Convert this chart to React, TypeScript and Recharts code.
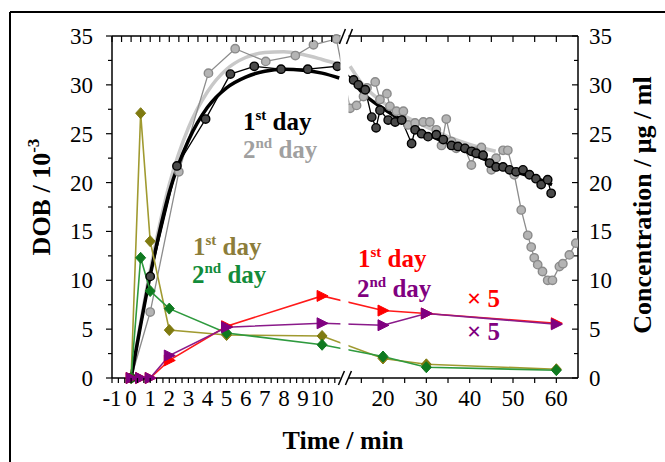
import { LineChart, Line, XAxis, YAxis } from 'recharts'

// broken time axis: 0-11 min linear, then 20-65 min compressed
const U20 = 13.19
const K = 0.2269
const U_MIN = -1
const U_MAX = 23.4
const toU = (t: number) => (t <= 11 ? t : U20 + (t - 20) * K)

const LEFT_LABELS = [-1, 0, 1, 2, 3, 4, 5, 6, 7, 8, 9, 10]
const RIGHT_LABELS = [20, 30, 40, 50, 60]
const Y_LABELS = [0, 5, 10, 15, 20, 25, 30, 35]

// DOB, 1st day (black)
const DOB1_T = [0, 1, 2.4, 3.9, 5.2, 6.45, 7.85, 9.25, 10.8, 13.2, 14.3, 15.9, 17.4, 18.4, 19.3, 21.2, 22.8, 24.3, 26.6, 27.4, 28.9, 30.4, 32.3, 33.9, 35.8, 37.3, 38.9, 40.4, 41.5, 43.1, 44.6, 46.1, 47.7, 49.2, 50.7, 52.3, 53.8, 55.3, 56.5, 58.0, 58.8]
const DOB1_Y = [0, 10.4, 21.7, 26.5, 31.1, 31.9, 31.6, 31.6, 31.9, 30.5, 30.0, 29.5, 26.7, 25.6, 27.4, 26.4, 26.2, 26.4, 24.0, 25.4, 25.0, 24.7, 24.9, 24.4, 23.8, 23.7, 23.5, 23.2, 23.0, 22.8, 22.0, 21.6, 21.6, 21.3, 21.1, 21.3, 20.8, 20.4, 19.8, 20.3, 18.9]

// DOB, 2nd day (gray)
const DOB2_T = [0, 1, 2.5, 4.05, 5.45, 7.05, 8.6, 9.55, 10.75, 12.4, 13.9, 15.5, 16.3, 18.2, 19.3, 20.9, 21.6, 23.1, 24.7, 25.8, 27.4, 29.3, 30.8, 32.3, 33.5, 34.6, 35.8, 36.9, 38.9, 40.4, 41.5, 42.7, 45.0, 46.1, 47.7, 48.8, 50.3, 51.9, 53.4, 54.2, 54.9, 55.7, 56.8, 58.0, 59.1, 60.7, 61.5, 63.0, 64.5]
const DOB2_Y = [0, 6.75, 21.1, 31.2, 33.7, 32.4, 33.0, 34.1, 34.7, 27.6, 27.9, 28.8, 29.7, 30.3, 28.5, 29.1, 27.8, 27.3, 27.3, 25.9, 26.1, 26.2, 26.2, 25.4, 23.8, 26.5, 24.2, 23.5, 23.5, 21.8, 23.2, 23.6, 21.3, 22.5, 23.3, 23.3, 20.8, 17.2, 14.6, 13.4, 12.3, 11.6, 10.9, 10.0, 10.0, 11.4, 11.7, 12.6, 13.8]

// fitted curves
const FIT1_LT = [0, 1, 2, 3, 4, 5, 6, 7, 8, 9, 10, 10.9]
const FIT1_LY = [0, 10.5, 19.0, 24.3, 27.7, 29.7, 30.8, 31.4, 31.6, 31.5, 31.2, 30.7]
const FIT1_RT = [12.4, 15, 20, 25, 30, 35, 40, 45, 50, 55, 59]
const FIT1_RY = [30.8, 29.3, 27.6, 26.2, 25.0, 24.0, 23.0, 22.1, 21.2, 20.5, 19.8]
const FIT2_LT = [0, 1, 2, 3, 4, 5, 6, 7, 8, 9, 10, 10.9]
const FIT2_LY = [0, 11.0, 19.8, 25.6, 29.3, 31.6, 32.8, 33.3, 33.4, 33.1, 32.6, 32.1]
const FIT2_RT = [12.4, 15, 20, 25, 30, 35, 40, 46]
const FIT2_RY = [31.9, 30.2, 28.2, 26.8, 25.7, 24.7, 23.9, 23.2]

// concentrations (right axis)
const CONC_T = [0, 0.5, 1, 2, 5, 10, 20, 30, 60]
const OLIVE = [0, 27.1, 14.0, 4.9, 4.4, 4.3, 2.0, 1.4, 0.9]
const GREEN = [0, 12.3, 8.9, 7.1, 4.6, 3.4, 2.2, 1.1, 0.8]
const RED = [0, 0, 0, 1.8, 5.3, 8.4, 6.9, 6.6, 5.6]
const PURPLE = [0, 0, 0, 2.3, 5.2, 5.6, 5.4, 6.6, 5.5]

const W = 665
const H = 462
const PL = 112
const PR = 578
const PT = 36
const PB = 378
const FONT = '"Liberation Serif", "Times New Roman", serif'

const pxOfU = (u: number) => PL + ((u - U_MIN) / (U_MAX - U_MIN)) * (PR - PL)

const rows = (ts: number[], ys: number[]) => ts.map((t, i) => ({ u: toU(t), y: ys[i] }))

const bottomTicks: number[] = []
for (let i = 0; i <= 35; i++) bottomTicks.push(-1 + i / 3)
for (let t = 15; t <= 60; t += 5) bottomTicks.push(toU(t))
const topTicks: number[] = []
for (let i = 0; i <= 23; i++) topTicks.push(-1 + i / 2)
for (let t = 15; t <= 60; t += 5) topTicks.push(toU(t))
const yTicks: number[] = []
for (let v = 0; v <= 35; v += 2.5) yTicks.push(v)

const xLabel = (u: number) => {
  const l = LEFT_LABELS.find(v => Math.abs(v - u) < 1e-6)
  if (l !== undefined) return String(l)
  const r = RIGHT_LABELS.find(v => Math.abs(toU(v) - u) < 1e-6)
  return r !== undefined ? String(r) : null
}

function BottomTick(p: any) {
  const label = xLabel(p.payload.value)
  return (
    <g>
      <line x1={p.x} x2={p.x} y1={p.y} y2={p.y + 5} stroke="#000" strokeWidth={1.2} />
      {label && (
        <text x={p.x} y={p.y + 28} textAnchor="middle" fontSize={23} fontFamily={FONT} fill="#000">
          {label}
        </text>
      )}
    </g>
  )
}

function TopTick(p: any) {
  return <line x1={p.x} x2={p.x} y1={p.y} y2={p.y + 6} stroke="#000" strokeWidth={1.2} />
}

function LeftTick(p: any) {
  const v = p.payload.value
  const major = v % 5 === 0
  return (
    <g>
      <line x1={p.x - (major ? 6 : 4)} x2={p.x} y1={p.y} y2={p.y} stroke="#000" strokeWidth={1.2} />
      {major && (
        <text x={p.x - 19} y={p.y + 8} textAnchor="end" fontSize={23} fontFamily={FONT} fill="#000">
          {v}
        </text>
      )}
    </g>
  )
}

function RightTick(p: any) {
  const v = p.payload.value
  const major = v % 5 === 0
  return (
    <g>
      <line x1={p.x - (major ? 6 : 4)} x2={p.x} y1={p.y} y2={p.y} stroke="#000" strokeWidth={1.2} />
      {major && (
        <text x={p.x + 11} y={p.y + 8} textAnchor="start" fontSize={23} fontFamily={FONT} fill="#000">
          {v}
        </text>
      )}
    </g>
  )
}

const ball = (fill: string, stroke: string) => (p: any) =>
  p.cx == null ? <g key={p.index} /> : (
    <circle key={p.index} cx={p.cx} cy={p.cy} r={4.2} fill={fill} stroke={stroke} strokeWidth={1.4} />
  )

const diamond = (fill: string) => (p: any) =>
  p.cx == null ? <g key={p.index} /> : (
    <polygon
      key={p.index}
      points={`${p.cx},${p.cy - 5.5} ${p.cx + 5},${p.cy} ${p.cx},${p.cy + 5.5} ${p.cx - 5},${p.cy}`}
      fill={fill}
      stroke={fill}
    />
  )

const triangle = (fill: string) => (p: any) =>
  p.cx == null ? <g key={p.index} /> : (
    <polygon
      key={p.index}
      points={`${p.cx - 5},${p.cy - 5.5} ${p.cx + 6},${p.cy} ${p.cx - 5},${p.cy + 5.5}`}
      fill={fill}
      stroke={fill}
    />
  )

function DayLabel({ x, y, n, sup, color }: { x: number; y: number; n: string; sup: string; color: string }) {
  return (
    <text x={x} y={y} fontSize={25} fontWeight="bold" fontFamily={FONT} fill={color}>
      <tspan>{n}</tspan>
      <tspan fontSize={15} dy={-10}>{sup}</tspan>
      <tspan dy={10}>{' day'}</tspan>
    </text>
  )
}

export default function App() {
  const bx1 = pxOfU(10.96)
  const bx2 = pxOfU(11.38)
  return (
    <div style={{ position: 'absolute', left: 0, top: 0, width: W, height: H, background: '#fff' }}>
      <LineChart width={W} height={H} margin={{ top: 30, right: 0, bottom: 0, left: 0 }}>
        <XAxis
          xAxisId="b"
          dataKey="u"
          type="number"
          domain={[U_MIN, U_MAX]}
          allowDataOverflow
          ticks={bottomTicks}
          interval={0}
          height={H - PB}
          tickSize={0}
          tickMargin={0}
          tickLine={false}
          axisLine={{ stroke: '#000', strokeWidth: 1.5 }}
          tick={(p: any) => <BottomTick {...p} />}
        />
        <XAxis
          xAxisId="t"
          orientation="top"
          dataKey="u"
          type="number"
          domain={[U_MIN, U_MAX]}
          allowDataOverflow
          ticks={topTicks}
          interval={0}
          height={6}
          tickSize={0}
          tickMargin={0}
          tickLine={false}
          axisLine={{ stroke: '#000', strokeWidth: 1.5 }}
          tick={(p: any) => <TopTick {...p} />}
        />
        <YAxis
          yAxisId="l"
          type="number"
          domain={[0, 35]}
          ticks={yTicks}
          interval={0}
          width={PL}
          tickSize={0}
          tickMargin={0}
          tickLine={false}
          axisLine={{ stroke: '#000', strokeWidth: 1.5 }}
          tick={(p: any) => <LeftTick {...p} />}
        />
        <YAxis
          yAxisId="r"
          orientation="right"
          type="number"
          domain={[0, 35]}
          ticks={yTicks}
          interval={0}
          width={W - PR}
          tickSize={0}
          tickMargin={0}
          tickLine={false}
          axisLine={{ stroke: '#000', strokeWidth: 1.5 }}
          tick={(p: any) => <RightTick {...p} />}
        />

        <Line data={rows(FIT2_LT, FIT2_LY)} dataKey="y" xAxisId="b" yAxisId="l" type="monotone" stroke="#c8c8c8" strokeWidth={3.5} dot={false} activeDot={false} isAnimationActive={false} />
        <Line data={rows(FIT2_RT, FIT2_RY)} dataKey="y" xAxisId="b" yAxisId="l" type="monotone" stroke="#c8c8c8" strokeWidth={3.5} dot={false} activeDot={false} isAnimationActive={false} />
        <Line data={rows(DOB2_T, DOB2_Y)} dataKey="y" xAxisId="b" yAxisId="l" stroke="#8c8c8c" strokeWidth={1.3} dot={ball('#b4b4b4', '#8a8a8a')} activeDot={false} isAnimationActive={false} />
        <Line data={rows(FIT1_LT, FIT1_LY)} dataKey="y" xAxisId="b" yAxisId="l" type="monotone" stroke="#000" strokeWidth={3.5} dot={false} activeDot={false} isAnimationActive={false} />
        <Line data={rows(FIT1_RT, FIT1_RY)} dataKey="y" xAxisId="b" yAxisId="l" type="monotone" stroke="#000" strokeWidth={3.5} dot={false} activeDot={false} isAnimationActive={false} />
        <Line data={rows(DOB1_T, DOB1_Y)} dataKey="y" xAxisId="b" yAxisId="l" stroke="#000" strokeWidth={1.3} dot={ball('#4a4a4a', '#000')} activeDot={false} isAnimationActive={false} />

        <Line data={rows(CONC_T, OLIVE)} dataKey="y" xAxisId="b" yAxisId="r" stroke="#a09a30" strokeWidth={1.6} dot={diamond('#7f7a10')} activeDot={false} isAnimationActive={false} />
        <Line data={rows(CONC_T, GREEN)} dataKey="y" xAxisId="b" yAxisId="r" stroke="#2e9a3e" strokeWidth={1.6} dot={diamond('#0f7a20')} activeDot={false} isAnimationActive={false} />
        <Line data={rows(CONC_T, RED)} dataKey="y" xAxisId="b" yAxisId="r" stroke="#ff1a1a" strokeWidth={1.6} dot={triangle('#ff0000')} activeDot={false} isAnimationActive={false} />
        <Line data={rows(CONC_T, PURPLE)} dataKey="y" xAxisId="b" yAxisId="r" stroke="#8a1a8a" strokeWidth={1.6} dot={triangle('#800080')} activeDot={false} isAnimationActive={false} />
      </LineChart>

      <svg width={W} height={H} style={{ position: 'absolute', left: 0, top: 0, pointerEvents: 'none' }}>
        {/* axis break */}
        <rect x={bx1} y={PT - 8} width={bx2 - bx1} height={PB - PT + 16} fill="#fff" />
        <g stroke="#000" strokeWidth={1.5}>
          <line x1={bx1 - 1} y1={PT + 8} x2={bx1 + 5} y2={PT - 7} />
          <line x1={bx1 + 6} y1={PT + 8} x2={bx1 + 12} y2={PT - 7} />
          <line x1={bx1 - 2} y1={PB + 7} x2={bx1 + 4} y2={PB - 7} />
          <line x1={bx1 + 5} y1={PB + 7} x2={bx1 + 11} y2={PB - 7} />
        </g>
        {/* outer frame */}
        <line x1={10} y1={12} x2={W} y2={12} stroke="#000" strokeWidth={2} />
        <line x1={10} y1={12} x2={10} y2={H} stroke="#000" strokeWidth={2} />

        <text transform="translate(50,197) rotate(-90)" textAnchor="middle" fontSize={26} fontWeight="bold" fontFamily={FONT} fill="#000">
          DOB / 10<tspan fontSize={17} dy={-11}>-3</tspan>
        </text>
        <text transform="translate(651,205) rotate(-90)" textAnchor="middle" fontSize={26} fontWeight="bold" fontFamily={FONT} fill="#000">
          Concentration / μg / ml
        </text>
        <text x={343} y={449} textAnchor="middle" fontSize={26} fontWeight="bold" fontFamily={FONT} fill="#000">
          Time / min
        </text>

        <DayLabel x={243} y={130} n="1" sup="st" color="#000" />
        <DayLabel x={243} y={158} n="2" sup="nd" color="#a0a0a0" />
        <DayLabel x={193} y={255} n="1" sup="st" color="#8c7d3a" />
        <DayLabel x={192} y={283} n="2" sup="nd" color="#128c3a" />
        <DayLabel x={358} y={267} n="1" sup="st" color="#ff0000" />
        <DayLabel x={357} y={297} n="2" sup="nd" color="#800080" />
        <text x={467} y={307} fontSize={25} fontWeight="bold" fontFamily={FONT} fill="#ff0000">× 5</text>
        <text x={467} y={340} fontSize={25} fontWeight="bold" fontFamily={FONT} fill="#800080">× 5</text>
      </svg>
    </div>
  )
}
